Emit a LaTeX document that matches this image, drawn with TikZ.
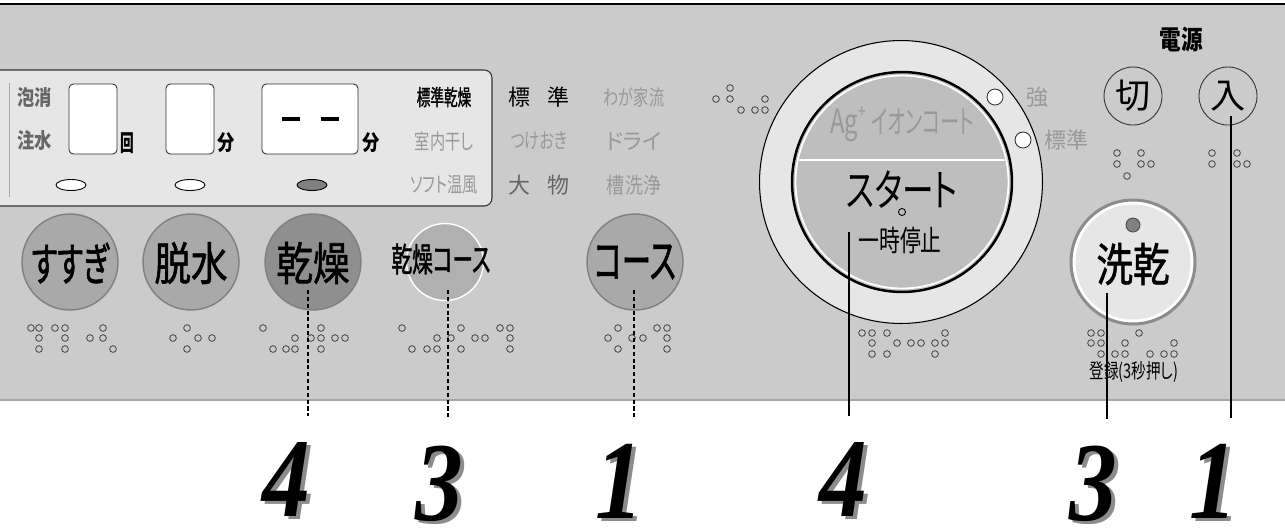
\documentclass[tikz,border=0pt]{standalone}
\usepackage{fontspec}
\usepackage{graphicx}
\setmainfont{Liberation Serif}
\newfontfamily\jpN[RawFeature=+palt]{Noto Sans CJK JP}
\newfontfamily\jpA[FakeStretch=0.82,RawFeature=+palt]{Noto Sans CJK JP}
\newfontfamily\jpB[FakeStretch=0.72,RawFeature=+palt]{Noto Sans CJK JP}
\newfontfamily\jpC[FakeStretch=0.6,RawFeature=+palt]{Noto Sans CJK JP}
\newfontfamily\jpM[FakeStretch=0.8,FakeBold=1.2,RawFeature=+palt]{Noto Sans CJK JP}
\newfontfamily\jpMc[FakeStretch=0.62,FakeBold=1.2,RawFeature=+palt]{Noto Sans CJK JP}
\newfontfamily\numfont[FakeStretch=0.85]{Liberation Serif}
\usepackage{xcolor}
\usetikzlibrary{positioning}

\definecolor{panelgray}{HTML}{CBCBCB}
\definecolor{lcdgray}{HTML}{E6E6E6}
\definecolor{btngray}{HTML}{A9A9A9}
\definecolor{btndark}{HTML}{8F8F8F}
\definecolor{startgray}{HTML}{BEBEBE}
\definecolor{dimtext}{HTML}{999999}
\definecolor{midtext}{HTML}{666666}

% step number with a grey drop shadow
\newcommand{\shnum}[1]{\kern4pt{\color{black!45}#1}\llap{\raisebox{1.6pt}{#1}\kern2pt}\kern6pt}

\begin{document}
\begin{tikzpicture}[
    x=0.02cm, y=-0.02cm,
    every node/.style={
        inner sep=0pt
    },
    lbl/.style={
        font=\jpB\fontsize{12}{12}\selectfont
    },
    dimlbl/.style={
        lbl,
        text=dimtext
    },
    lcdbox/.style={
        rectangle,
        draw=black!80,
        line width=0.5pt,
        fill=white,
        rounded corners=2.5pt,
        minimum height=1.4cm
    },
    btn/.style={
        circle,
        draw=black!50,
        line width=0.8pt,
        fill=btngray,
        minimum size=1.92cm
    },
    btntext/.style={
        font=\jpM\fontsize{26}{26}\selectfont
    },
    pwrbtn/.style={
        circle,
        draw=black!80,
        line width=0.5pt,
        minimum size=1.16cm
    },
    pilot/.style={
        circle,
        draw=black!80,
        line width=0.5pt,
        fill=white,
        minimum size=0.32cm
    },
    dot/.style={
        draw=black!75,
        line width=0.45pt
    },
    guide/.style={
        line width=1.1pt,
        dash pattern=on 2.3pt off 1.6pt,
        shorten >=0.45cm
    },
    lead/.style={
        line width=1.1pt,
        shorten >=0.45cm
    },
    numlbl/.style={
        font=\numfont\bfseries\itshape\fontsize{64}{64}\selectfont,
        inner sep=2pt
    }
]

\useasboundingbox (0,0) rectangle (1285,529);

% panel
\fill[panelgray] (0,5) rectangle (1285,400);
\draw[black!35, line width=0.6pt] (0,400) -- (1285,400);
\draw[line width=1.5pt] (0,4) -- (1285,4);

% display window
\draw[fill=lcdgray, draw=black!80, line width=0.6pt, rounded corners=4.5pt]
    (-10,70) rectangle (492,206);
\draw[black!35, line width=0.5pt] (9,83) -- (9,197);

\node[lbl, font=\jpA\bfseries\fontsize{12}{12}\selectfont, text=midtext] (awa) at (35,97) {泡消};
\node[lbl, font=\jpA\bfseries\fontsize{12}{12}\selectfont, text=midtext] (chusui) at (35,140) {注水};

\node[lcdbox, minimum width=0.96cm] (rinsebox) at (93,119) {};
\node[lcdbox, minimum width=0.96cm] (spinbox) at (190,119) {};
\node[lcdbox, minimum width=1.92cm] (drybox) at (310,119) {};
\draw[line width=2.8pt] (282,119) -- (300,119);
\draw[line width=2.8pt] (321,119) -- (339,119);

\node[font=\jpC\bfseries\fontsize{13}{13}\selectfont] (kai) at (127,143) {回};
\node[lbl, font=\jpA\bfseries\fontsize{12}{12}\selectfont] (fun1) at (226,143) {分};
\node[lbl, font=\jpA\bfseries\fontsize{12}{12}\selectfont] (fun2) at (371,143) {分};

\draw[fill=white, line width=0.5pt] (71,185) ellipse[x radius=15, y radius=5.5];
\draw[fill=white, line width=0.5pt] (190,185) ellipse[x radius=15, y radius=5.5];
\draw[fill=black!50, line width=0.5pt] (312,185) ellipse[x radius=15, y radius=5.5];

\node[lbl, font=\jpMc\fontsize{12.5}{12.5}\selectfont] (hyokan) at (444,97) {標準乾燥};
\node[dimlbl] (shitsunai) at (444,141) {室内干し};
\node[dimlbl] (soft) at (444,185) {ソフト温風};

% course names
\node[lbl, font=\jpN\fontsize{12.5}{12.5}\selectfont] (hyojun) at (539,97) {標\hspace{0.75em}準};
\node[dimlbl] (wagaya) at (634,97) {わが家流};
\node[dimlbl] (tsuke) at (539,141) {つけおき};
\node[dimlbl, font=\jpN\fontsize{12.5}{12.5}\selectfont] (dry) at (634,141) {ドライ};
\node[lbl, font=\jpN\fontsize{12.5}{12.5}\selectfont, text=midtext] (ohmono) at (539,185) {大\hspace{0.75em}物};
\node[dimlbl, font=\jpA\fontsize{12.5}{12.5}\selectfont] (sosen) at (634,185) {槽洗浄};

% buttons
\node[btn] (susugi) at (70,262) {};
\node[btntext, font=\jpMc\fontsize{26}{26}\selectfont] (susugiT) at (70,263) {すすぎ};
\node[btn] (dassui) at (191,262) {};
\node[btntext] (dassuiT) at (191,263) {脱水};
\node[btn, fill=btndark] (kanso) at (313,262) {};
\node[btntext] (kansoT) at (313,263) {乾燥};
\node[circle, draw=white, line width=0.8pt, fill=black!31, minimum size=1.54cm] (kcourse) at (445,262) {};
\node[font=\jpMc\fontsize{19}{19}\selectfont] (kcourseT) at (441,259) {乾燥コース};
\node[btn] (course) at (635,262) {};
\node[btntext, font=\jpMc\fontsize{27}{27}\selectfont] (courseT) at (635,262) {コース};

% start dial
\node[circle, draw, line width=0.6pt, fill=lcdgray, minimum size=5.66cm] (dial) at (901,182) {};
\node[circle, draw, line width=1.4pt, fill=startgray, minimum size=4.4cm] (start) at (902,182) {};
\node[circle, draw=white, line width=1pt, minimum size=4.26cm] (startring) at (902,182) {};
\begin{scope}
    \clip (start.center) circle[radius=4.2cm/2];
    \draw[white, line width=0.8pt] (start.west |- 0,160) -- (start.east |- 0,160);
\end{scope}
\node[text=dimtext, font=\jpB\fontsize{19}{19}\selectfont] (agion) at (902,124)
    {Ag\raisebox{0.8ex}{\fontsize{11}{11}\selectfont +}\,\jpC\fontsize{18}{18}\selectfont イオンコート};
\node[font=\jpB\fontsize{25}{25}\selectfont] (startT) at (902,190) {スタート};
\draw[line width=0.5pt, fill=startgray] (902,212) circle[radius=2pt];
\node[font=\jpB\fontsize{16.5}{16.5}\selectfont] (pause) at (900,240) {一時停止};

\node[pilot] (lampS) at (995,97) {};
\node[pilot] (lampN) at (1023,140) {};
\node[dimlbl, font=\jpN\fontsize{12.5}{12.5}\selectfont] (kyo) at (1037,97) {強};
\node[dimlbl, font=\jpN\fontsize{12.5}{12.5}\selectfont] (hyojun2) at (1066,140) {標準};

% power and wash/dry
\node[font=\jpA\bfseries\fontsize{15}{15}\selectfont] (dengen) at (1181,40) {電源};
\node[pwrbtn] (off) at (1133,96) {};
\node[font=\jpN\fontsize{20}{20}\selectfont] (offT) at (1133,96) {切};
\node[pwrbtn] (on) at (1228,96) {};
\node[font=\jpN\fontsize{20}{20}\selectfont] (onT) at (1228,96) {入};

\node[circle, draw=black!45, line width=1.7pt, fill=white, minimum size=2.48cm] (sengan) at (1133,262) {};
\node[circle, fill=lcdgray, minimum size=2.3cm] (senganIn) at (1133,262) {};
\node[circle, draw=black!70, line width=0.5pt, fill=black!50, minimum size=0.28cm] (senganLed) at (1133,225) {};
\node[font=\jpM\fontsize{26}{26}\selectfont] (senganT) at (1133,264) {洗乾};
\node[font=\jpB\fontsize{11.5}{11.5}\selectfont] (toroku) at (1134,372) {登録(3秒押し)};

% braille
\foreach \bx/\by in {31/328,39/328,55/328,65/328,103/328,39/338,65/338,90/338,103/338,39/349,65/349,113/349,
    187/328,173/338,198/338,212/338,187/349,
    263/328,321/328,295/338,311/338,321/338,335/338,345/338,273/349,286/349,295/349,321/349,
    402/328,461/328,500/328,510/328,437/338,451/338,475/338,485/338,510/338,412/349,427/349,437/349,461/349,510/349,
    618/328,657/328,667/328,608/338,632/338,643/338,667/338,618/349,667/349,
    716/99,730/88,730/99,741/110,755/110,765/99,765/110,
    862/333,872/333,887/333,945/333,872/343,897/343,911/343,921/343,935/343,945/343,872/354,887/354,935/354,
    1091/333,1101/333,1139/333,1091/343,1101/343,1125/343,1174/343,1101/354,1115/354,1125/354,1150/354,1164/354,1174/354,
    1117/153,1141/153,1117/164,1141/164,1151/164,1127/176,
    1212/153,1237/153,1212/164,1237/164,1247/164}
    \draw[dot] (\bx,\by) circle[radius=1.9pt];

% step numbers
\node[numlbl] (n4a) at (292,481) {\shnum{4}};
\node[numlbl] (n3a) at (445,485) {\shnum{3}};
\node[numlbl] (n1a) at (625,483) {\shnum{1}};
\node[numlbl] (n4b) at (849,481) {\shnum{4}};
\node[numlbl] (n3b) at (1099,485) {\shnum{3}};
\node[numlbl] (n1b) at (1219,483) {\shnum{1}};

\coordinate (g4) at (308,290);
\coordinate (g3) at (448,290);
\coordinate (g1) at (634,290);
\coordinate (l4) at (849,232);
\coordinate (l3) at (1107,293);
\coordinate (l1) at (1231,116);

\draw[guide] (g4) -- (g4 |- n4a.north);
\draw[guide] (g3) -- (g3 |- n3a.north);
\draw[guide] (g1) -- (g1 |- n1a.north);
\draw[lead] (l4) -- (l4 |- n4b.north);
\draw[lead] (l3) -- (l3 |- n3b.north);
\draw[lead] (l1) -- (l1 |- n1b.north);

\end{tikzpicture}
\end{document}
